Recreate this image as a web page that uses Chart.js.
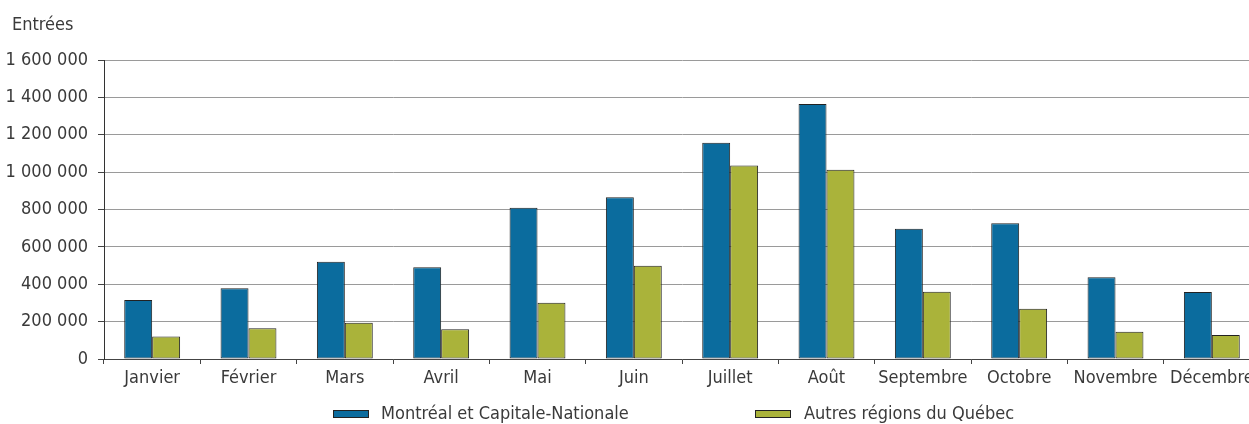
<!DOCTYPE html>
<html lang="fr">
<head>
<meta charset="utf-8">
<title>Entrées par mois</title>
<script src="https://cdn.jsdelivr.net/npm/chart.js@4"></script>
<style>
  html, body { margin: 0; padding: 0; background: #fff; overflow: hidden; }
  #wrap { position: relative; width: 1260px; height: 424px; }
</style>
</head>
<body>
<div id="wrap"><canvas id="entrees"></canvas></div>
<script>
const mois = ["Janvier", "Février", "Mars", "Avril", "Mai", "Juin", "Juillet", "Août", "Septembre", "Octobre", "Novembre", "Décembre"];

const montrealCapitale = [316000, 378000, 521000, 491000, 810000, 865000, 1157000, 1365000, 697000, 726000, 437000, 359000];
const autresRegions = [121000, 164000, 194000, 159000, 301000, 499000, 1036000, 1013000, 360000, 269000, 146000, 128000];

const seriesNames = ["Montréal et Capitale-Nationale", "Autres régions du Québec"];
const axisTitle = "Entrées";

const FONT = "'DejaVu Sans Condensed', 'Liberation Sans Narrow', sans-serif";
const FS = 18;
const TEXT = "#3a3a3a";

// espace comme séparateur de milliers
const fmt = (v) => String(v).replace(/\B(?=(\d{3})+(?!\d))/g, " ");

// titre de l'axe + légende dessinés à la main (espacement de la légende d'origine)
const decorations = {
  id: "decorations",
  afterDraw(chart) {
    const ctx = chart.ctx;
    ctx.save();
    ctx.font = FS + "px " + FONT;
    ctx.fillStyle = TEXT;
    ctx.textBaseline = "alphabetic";
    ctx.textAlign = "left";
    ctx.fillText(axisTitle, 12, 30);

    const items = [
      { box: 333, text: 381 },
      { box: 755, text: 804 },
    ];
    chart.data.datasets.forEach((ds, i) => {
      const it = items[i];
      ctx.fillStyle = ds.backgroundColor;
      ctx.fillRect(it.box, 411, 36, 6);
      ctx.strokeStyle = ds.borderColor;
      ctx.lineWidth = 1;
      ctx.strokeRect(it.box + 0.5, 410.5, 35, 7);
      ctx.fillStyle = TEXT;
      ctx.fillText(ds.label, it.text, 419);
    });
    ctx.restore();
  },
};

new Chart(document.getElementById("entrees"), {
  type: "bar",
  data: {
    labels: mois,
    datasets: [
      {
        label: seriesNames[0],
        data: montrealCapitale,
        backgroundColor: "#0b6c9e",
        borderColor: "#222",
        borderWidth: 1,
        borderSkipped: false,
      },
      {
        label: seriesNames[1],
        data: autresRegions,
        backgroundColor: "#aab33a",
        borderColor: "#222",
        borderWidth: 1,
        borderSkipped: false,
      },
    ],
  },
  options: {
    responsive: true,
    maintainAspectRatio: false,
    animation: false,
    datasets: {
      bar: { categoryPercentage: 0.58, barPercentage: 1.0 },
    },
    layout: { padding: { top: 60, right: 0, bottom: 35, left: 0 } },
    plugins: {
      legend: { display: false },
      tooltip: { enabled: false },
    },
    scales: {
      x: {
        offset: true,
        grid: {
          display: true,
          drawOnChartArea: false,
          drawTicks: true,
          tickLength: 5,
          tickColor: "#444",
          offset: true,
        },
        border: { color: "#444", width: 1 },
        ticks: { color: TEXT, font: { family: FONT, size: FS }, padding: 4, maxRotation: 0, autoSkip: false },
        afterFit(scale) { scale.height = 30; },
      },
      y: {
        min: 0,
        max: 1600000,
        grid: { color: "#9a9a9a", lineWidth: 1, tickLength: 6, tickColor: "#444" },
        border: { color: "#333", width: 1 },
        ticks: {
          stepSize: 200000,
          color: TEXT,
          font: { family: FONT, size: FS },
          padding: 10,
          callback: (v) => fmt(v),
        },
        afterFit(scale) { scale.width = 104; },
      },
    },
  },
  plugins: [decorations],
});
</script>
</body>
</html>
